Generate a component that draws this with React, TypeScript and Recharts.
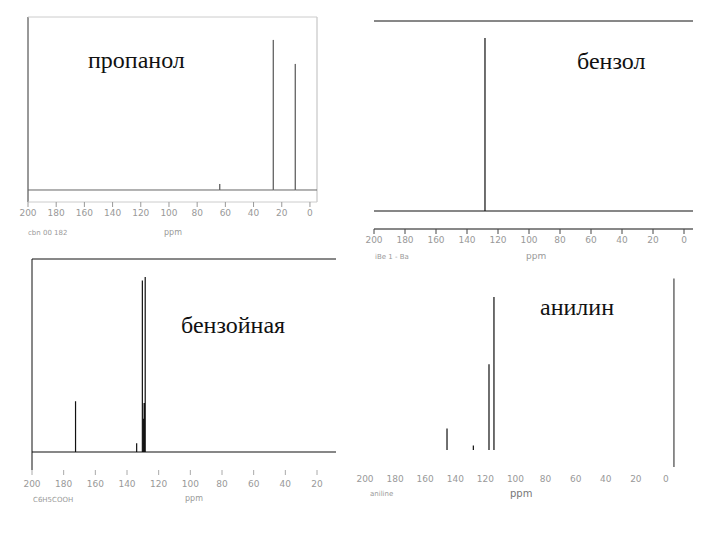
import React from "react";
import { LineChart, Line, XAxis, YAxis, ReferenceLine } from "recharts";

// ---- data (ppm shifts and relative intensities) ----
const ppmTicks = [200, 180, 160, 140, 120, 100, 80, 60, 40, 20, 0];

const propanolShift = [64.0, 26.0, 10.4];
const propanolIntensity = [4, 100, 84];

const benzeneShift = [128.4];
const benzeneIntensity = [100];

const benzoicShift = [172.5, 133.9, 130.3, 129.5, 129.2, 128.5];
const benzoicIntensity = [29, 5, 98, 19, 28, 100];

const anilineShift = [145.5, 128.0, 117.6, 114.3];
const anilineIntensity = [14, 3, 56, 100];
const anilineRefShift = [-5.3];
const anilineRefIntensity = [112];

const titles = ["пропанол", "бензол", "бензойная", "анилин"];

type Pt = { x: number; y: number | null };

function sticks(shifts: number[], ints: number[], from: number, to: number, baseline: boolean, base = 0): Pt[] {
  const pts: Pt[] = [];
  if (baseline) pts.push({ x: from, y: 0 });
  shifts.forEach((s, i) => {
    pts.push({ x: s, y: base }, { x: s, y: ints[i] }, { x: s, y: baseline ? 0 : null });
  });
  if (baseline) pts.push({ x: to, y: 0 });
  return pts;
}

const M = 14;

type PanelProps = {
  x0: number; x1: number; y0: number; y1: number; axisH: number;
  xDomain: [number, number]; yDomain: [number, number];
  children?: React.ReactNode;
  axisLine: any; tickLine: any; tickColor: string; tickSize?: number; tickMargin?: number;
};

function Panel(p: PanelProps) {
  const w = p.x1 - p.x0 + 2 * M;
  const h = p.y1 - p.y0 + p.axisH + 2;
  const ticks = ppmTicks.filter((t) => t >= p.xDomain[0] && t <= p.xDomain[1]);
  return (
    <div style={{ position: "absolute", left: p.x0 - M, top: p.y0 - 2 }}>
      <LineChart width={w} height={h} margin={{ top: 2, right: M, bottom: 0, left: M }}>
        <XAxis
          type="number"
          dataKey="x"
          domain={p.xDomain}
          allowDataOverflow
          reversed
          ticks={ticks}
          interval={0}
          height={p.axisH}
          axisLine={p.axisLine}
          tickLine={p.tickLine}
          tickSize={p.tickSize ?? 5}
          tickMargin={p.tickMargin ?? 2}
          tick={{ fontSize: 9, fill: p.tickColor, fontFamily: "DejaVu Sans" }}
        />
        <YAxis hide type="number" domain={p.yDomain} allowDataOverflow />
        {p.children}
      </LineChart>
    </div>
  );
}

const titleStyle: React.CSSProperties = {
  position: "absolute",
  fontFamily: "'Liberation Serif', 'Times New Roman', serif",
  fontSize: 24,
  lineHeight: "24px",
  color: "#111",
  whiteSpace: "nowrap",
};
const capStyle: React.CSSProperties = {
  position: "absolute",
  fontFamily: "'DejaVu Sans', sans-serif",
  fontSize: 7,
  lineHeight: "8px",
  color: "#999",
  whiteSpace: "nowrap",
};

export default function App() {
  const p1x: [number, number] = [-5, 200];
  const p1y: [number, number] = [-8, 115.3];
  const p2x: [number, number] = [-5.8, 200];
  const p2y: [number, number] = [-10.4, 109.8];
  const p3x: [number, number] = [8, 200];
  const p3y: [number, number] = [-10.3, 110.3];
  const p4x: [number, number] = [-8, 200];
  const p4y: [number, number] = [-11.1, 117.6];

  return (
    <div style={{ position: "relative", width: 720, height: 540, background: "#fff", margin: -8, overflow: "hidden" }}>
      {/* propanol */}
      <Panel x0={28} x1={317} y0={17} y1={202} axisH={26} xDomain={p1x} yDomain={p1y}
        axisLine={{ stroke: "#ccc" }} tickLine={{ stroke: "#999" }} tickColor="#999" tickMargin={3}>
        <ReferenceLine x={200} stroke="#333" />
        <ReferenceLine x={-5} stroke="#bbb" />
        <ReferenceLine y={p1y[1]} stroke="#ccc" />
        <Line data={sticks(propanolShift, propanolIntensity, 200, -5, true)} dataKey="y"
          stroke="#666" strokeWidth={1} dot={false} isAnimationActive={false} />
      </Panel>

      {/* benzene */}
      <Panel x0={374} x1={693} y0={21} y1={229} axisH={26} xDomain={p2x} yDomain={p2y}
        axisLine={{ stroke: "#111" }} tickLine={{ stroke: "#444" }} tickColor="#999" tickMargin={3}>
        <ReferenceLine y={p2y[1]} stroke="#111" />
        <Line data={sticks(benzeneShift, benzeneIntensity, 200, -5.8, true)} dataKey="y"
          stroke="#111" strokeWidth={1.2} dot={false} isAnimationActive={false} />
      </Panel>

      {/* benzoic acid */}
      <Panel x0={32} x1={336} y0={259} y1={470} axisH={28} xDomain={p3x} yDomain={p3y}
        axisLine={false} tickLine={{ stroke: "#aaa" }} tickColor="#999" tickMargin={6}>
        <ReferenceLine x={200} stroke="#111" />
        <ReferenceLine y={p3y[1]} stroke="#111" />
        <Line data={sticks(benzoicShift, benzoicIntensity, 200, 8, true)} dataKey="y"
          stroke="#111" strokeWidth={1.2} dot={false} isAnimationActive={false} />
      </Panel>

      {/* aniline */}
      <Panel x0={365} x1={678} y0={270} y1={467} axisH={26} xDomain={p4x} yDomain={p4y}
        axisLine={false} tickLine={false} tickColor="#999" tickMargin={4}>
        <Line data={sticks(anilineShift, anilineIntensity, 200, -8, false)} dataKey="y"
          stroke="#111" strokeWidth={1.2} dot={false} isAnimationActive={false} connectNulls={false} />
        <Line data={sticks(anilineRefShift, anilineRefIntensity, 200, -8, false, p4y[0])} dataKey="y"
          stroke="#444" strokeWidth={1.2} dot={false} isAnimationActive={false} connectNulls={false} />
      </Panel>

      {/* titles */}
      <div style={{ ...titleStyle, left: 88, top: 48 }}>{titles[0]}</div>
      <div style={{ ...titleStyle, left: 577, top: 49 }}>{titles[1]}</div>
      <div style={{ ...titleStyle, left: 181, top: 313 }}>{titles[2]}</div>
      <div style={{ ...titleStyle, left: 540, top: 295 }}>{titles[3]}</div>

      {/* captions */}
      <div style={{ ...capStyle, left: 28, top: 229 }}>cbn 00 182</div>
      <div style={{ ...capStyle, left: 164, top: 229, fontSize: 8 }}>ppm</div>
      <div style={{ ...capStyle, left: 375, top: 253 }}>iBe 1 - Ba</div>
      <div style={{ ...capStyle, left: 526, top: 251, fontSize: 9, lineHeight: "10px" }}>ppm</div>
      <div style={{ ...capStyle, left: 33, top: 496 }}>C6H5COOH</div>
      <div style={{ ...capStyle, left: 185, top: 495, fontSize: 8 }}>ppm</div>
      <div style={{ ...capStyle, left: 370, top: 490 }}>aniline</div>
      <div style={{ ...capStyle, left: 510, top: 488, fontSize: 10, lineHeight: "11px", color: "#777" }}>ppm</div>
    </div>
  );
}
